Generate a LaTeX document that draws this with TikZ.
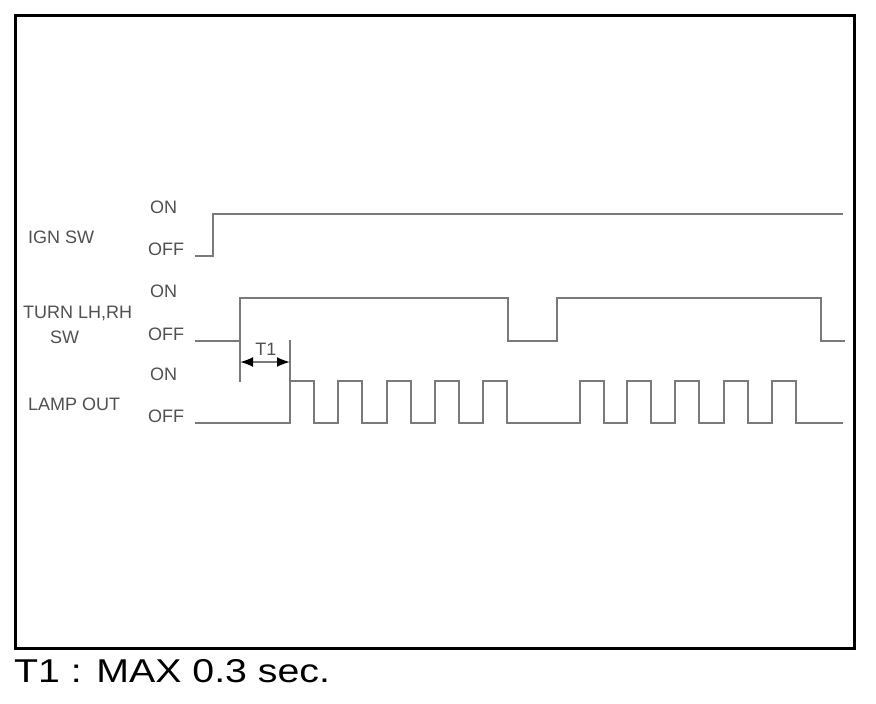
\documentclass[tikz,border=0pt]{standalone}
\usepackage{fontspec}
\setmainfont{Liberation Sans}
\usetikzlibrary{arrows.meta}
\definecolor{siggray}{HTML}{7A7A7A}
\definecolor{txtgray}{HTML}{505050}

\begin{document}
\begin{tikzpicture}[x=1pt, y=-1pt,
	sig/.style={draw=siggray, line width=2.6pt, line join=miter},
	lbl/.style={anchor=base west, inner sep=0pt, text=txtgray, font=\fontsize{18}{18}\selectfont}]
	\useasboundingbox (0,0) rectangle (876,704);
	\draw[line width=3pt] (15,15) rectangle (854,648);
	% signal names
	\node[lbl] (ign) at (28,243) {IGN SW};
	\node[lbl] (turn) at (23,318) {TURN LH,RH};
	\node[lbl] (turnsw) at (50,343) {SW};
	\node[lbl] (lamp) at (28,410) {LAMP OUT};
	% levels
	\node[lbl] (ignon) at (150,213) {ON};
	\node[lbl] (ignoff) at (148,255) {OFF};
	\node[lbl] (turnon) at (150,297) {ON};
	\node[lbl] (turnoff) at (148,340) {OFF};
	\node[lbl] (lampon) at (150,380) {ON};
	\node[lbl] (lampoff) at (148,422) {OFF};
	% waveforms
	\draw[sig] (195,256) -- (213,256) -- (213,214) -- (843,214);
	\draw[sig] (195,341) -- (240,341) -- (240,298) -- (508,298) -- (508,341) -- (557,341) -- (557,298) -- (821,298) -- (821,341) -- (845,341);
	\draw[sig] (195,423) foreach \s in {290,338,387,435,483,580,627,675,724,772} { -- (\s,423) -- (\s,381) -- (\s+24,381) -- (\s+24,423) } -- (843,423);
	% T1 delay
	\coordinate (t1a) at (240,362);
	\coordinate (t1b) at (290,362);
	\draw[sig, line width=2pt] (240,341) -- (240,382);
	\draw[sig, line width=2pt] (290,340) -- (290,381);
	\draw[draw=siggray, line width=2pt, {Latex[color=black,length=13pt,width=10pt]}-{Latex[color=black,length=13pt,width=10pt]}] (t1a) -- (t1b);
	\node[lbl, anchor=base] (t1) at (266,355) {T1};
	\node[anchor=base west, inner sep=0pt, font=\fontsize{33}{33}\selectfont, xscale=1.19] (note) at (14,682) {T1 : MAX 0.3 sec.};
\end{tikzpicture}
\end{document}
